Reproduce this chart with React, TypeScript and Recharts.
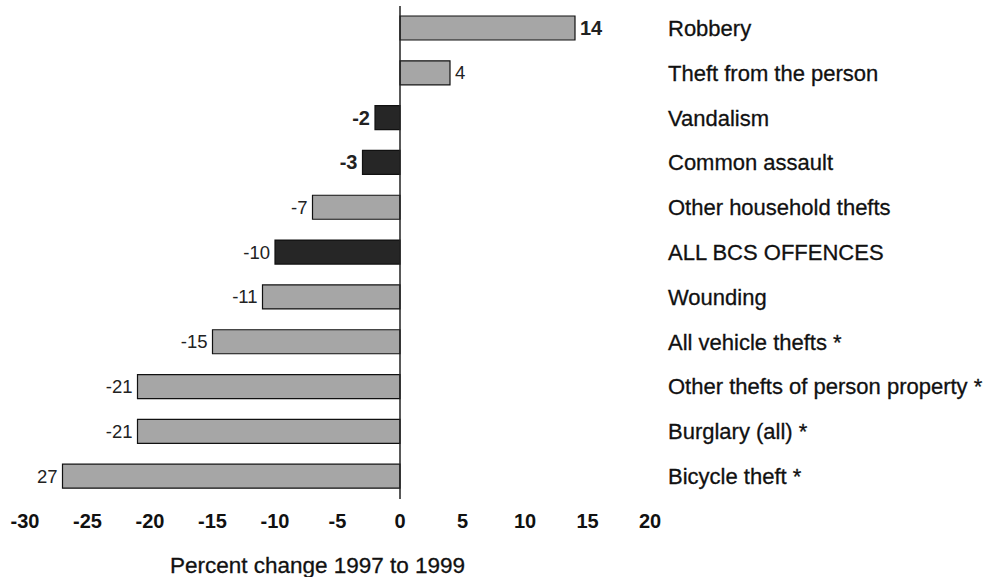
import React from "react";
import { BarChart, Bar, XAxis, YAxis, Cell, LabelList, ReferenceLine } from "recharts";

// offence categories, top to bottom
const offences = [
  "Robbery",
  "Theft from the person",
  "Vandalism",
  "Common assault",
  "Other household thefts",
  "ALL BCS OFFENCES",
  "Wounding",
  "All vehicle thefts *",
  "Other thefts of person property *",
  "Burglary (all) *",
  "Bicycle theft *",
];

// percent change 1997 to 1999
const changes = [14, 4, -2, -3, -7, -10, -11, -15, -21, -21, -27];

// labels as printed next to each bar
const valueLabels = ["14", "4", "-2", "-3", "-7", "-10", "-11", "-15", "-21", "-21", "27"];

const xTicks = [-30, -25, -20, -15, -10, -5, 0, 5, 10, 15, 20];

// rows drawn in the dark shade, and labels printed in bold
const darkRows = ["Vandalism", "Common assault", "ALL BCS OFFENCES"];
const boldLabels = ["Robbery", "Vandalism", "Common assault"];

const data = offences.map((name, i) => ({
  name,
  change: changes[i],
  label: valueLabels[i],
}));

const FONT = "'Liberation Sans', Arial, sans-serif";

const CategoryTick = (props: any) => {
  const { x, y, payload } = props;
  return (
    <text
      x={x + 10}
      y={y}
      textAnchor="start"
      dominantBaseline="central"
      fontFamily={FONT}
      fontSize={22}
      fill="#111"
      stroke="#111"
      strokeWidth={0.3}
    >
      {payload.value}
    </text>
  );
};

const ValueLabel = (props: any) => {
  const { x, y, width, height, index } = props;
  const row = data[index];
  const left = Math.min(x, x + width);
  const right = Math.max(x, x + width);
  const neg = row.change < 0;
  const bold = boldLabels.includes(row.name);
  return (
    <text
      x={neg ? left - 5 : right + 5}
      y={y + height / 2}
      textAnchor={neg ? "end" : "start"}
      dominantBaseline="central"
      fontFamily={FONT}
      fontSize={bold ? 20 : 18.5}
      fontWeight={bold ? "bold" : "normal"}
      fill="#222"
    >
      {row.label}
    </text>
  );
};

const AxisTitle = (props: any) => {
  const { viewBox } = props;
  return (
    <text
      x={viewBox.x + viewBox.width / 2 - 20}
      y={viewBox.y + viewBox.height - 12}
      textAnchor="middle"
      dominantBaseline="central"
      fontFamily={FONT}
      fontSize={22.5}
      fill="#111"
      stroke="#111"
      strokeWidth={0.3}
    >
      Percent change 1997 to 1999
    </text>
  );
};

export default function App() {
  return (
    <div style={{ position: "absolute", left: 0, top: 0, background: "#fff" }}>
      <BarChart
        width={987}
        height={577}
        data={data}
        layout="vertical"
        margin={{ top: 6, right: 17, bottom: 0, left: 25 }}
        barSize={24}
      >
        <XAxis
          type="number"
          domain={[-30, 20]}
          ticks={xTicks}
          axisLine={false}
          tickLine={false}
          tickMargin={9}
          height={78}
          tick={{ fontFamily: FONT, fontSize: 20, fontWeight: "bold", fill: "#111" }}
          label={<AxisTitle />}
        />
        <YAxis
          type="category"
          dataKey="name"
          orientation="right"
          width={320}
          axisLine={false}
          tickLine={false}
          tick={<CategoryTick />}
          interval={0}
        />
        <ReferenceLine x={0} stroke="#222" strokeWidth={1.5} />
        <Bar dataKey="change" stroke="#111" strokeWidth={1.2} isAnimationActive={false}>
          {data.map((d) => (
            <Cell key={d.name} fill={darkRows.includes(d.name) ? "#262626" : "#a6a6a6"} />
          ))}
          <LabelList dataKey="label" content={<ValueLabel />} />
        </Bar>
      </BarChart>
    </div>
  );
}
